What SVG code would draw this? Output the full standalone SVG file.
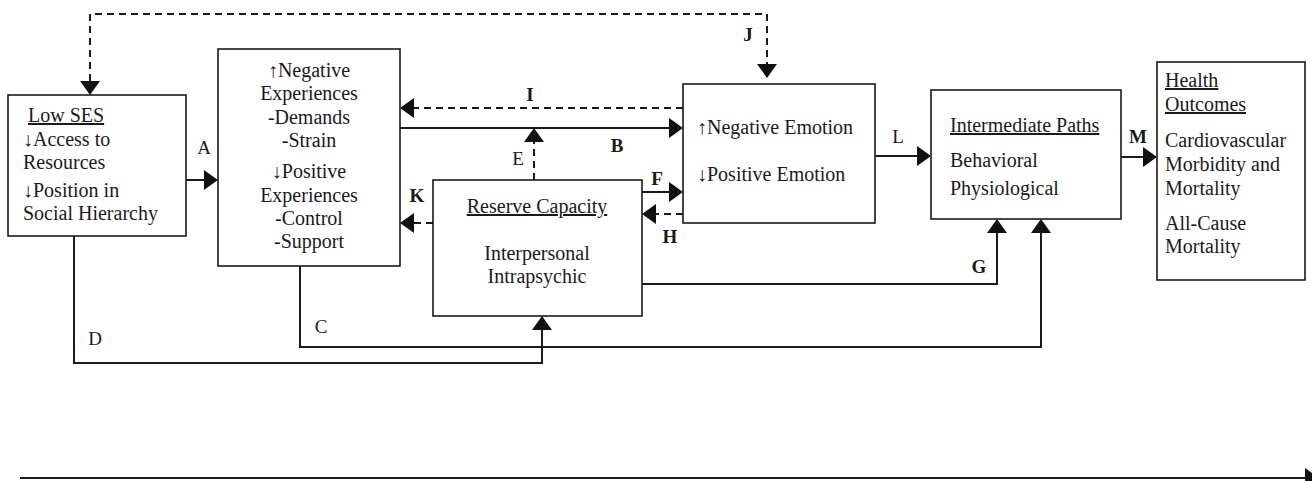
<svg xmlns="http://www.w3.org/2000/svg" width="1312" height="481" viewBox="0 0 1312 481">
  <style>
    .box { fill: #fff; stroke: #1a1a1a; stroke-width: 1.6; }
    .t { font-family: "Liberation Serif", "Times New Roman", serif; font-size: 20px; fill: #1a1a1a; }
    .c { text-anchor: middle; }
    .u { text-decoration: underline; }
    .lbl { font-family: "Liberation Serif", "Times New Roman", serif; font-size: 19px; fill: #1a1a1a; text-anchor: middle; }
    .b { font-weight: bold; }
    .ln { fill: none; stroke: #1a1a1a; stroke-width: 2; marker-end: url(#ah); }
    .ds { stroke-dasharray: 7 5; }
  </style>
  <defs>
    <marker id="ah" markerUnits="userSpaceOnUse" markerWidth="16" markerHeight="22" refX="12" refY="10" orient="auto">
      <path d="M0,0 L14,10 L0,20 Z" fill="#111"/>
    </marker>
    <marker id="ahs" markerUnits="userSpaceOnUse" markerWidth="16" markerHeight="22" refX="12" refY="10" orient="auto-start-reverse">
      <path d="M0,0 L14,10 L0,20 Z" fill="#111"/>
    </marker>
  </defs>
  <rect width="1312" height="481" fill="#fff"/>

  <g id="connectors">
    <path class="ln" d="M186,180 H216"/>
    <path class="ln" d="M400,128 H681"/>
    <path class="ln ds" d="M683,108 H402"/>
    <path class="ln ds" d="M90,93 V14 H767 V76" style="marker-start:url(#ahs)"/>
    <path class="ln ds" d="M534,180 V130"/>
    <path class="ln" d="M642,192 H681"/>
    <path class="ln ds" d="M683,214 H644"/>
    <path class="ln ds" d="M433,223 H402"/>
    <path class="ln" d="M875,156 H929"/>
    <path class="ln" d="M1121,157 H1155"/>
    <path class="ln" d="M642,284 H997 V221"/>
    <path class="ln" d="M300,266 V347 H1041 V221"/>
    <path class="ln" d="M74,236 V363 H542 V318"/>
    <path class="ln" d="M20,478 H1317"/>
    <text class="lbl" x="204" y="154">A</text>
    <text class="lbl b" x="617" y="152">B</text>
    <text class="lbl b" x="530" y="101">I</text>
    <text class="lbl b" x="748" y="41">J</text>
    <text class="lbl" x="518" y="165">E</text>
    <text class="lbl b" x="657" y="185">F</text>
    <text class="lbl b" x="670" y="243">H</text>
    <text class="lbl b" x="417" y="202">K</text>
    <text class="lbl" x="898" y="143">L</text>
    <text class="lbl b" x="1138" y="143">M</text>
    <text class="lbl b" x="979" y="273">G</text>
    <text class="lbl" x="321" y="333">C</text>
    <text class="lbl" x="95" y="345">D</text>
  </g>

  <g id="low-ses">
    <rect class="box" x="8" y="95" width="178" height="141"/>
    <text class="t u" x="28" y="122">Low SES</text>
    <text class="t" x="23" y="146">↓Access to</text>
    <text class="t" x="23" y="169">Resources</text>
    <text class="t" x="23" y="197">↓Position in</text>
    <text class="t" x="23" y="220">Social Hierarchy</text>
  </g>

  <g id="experiences">
    <rect class="box" x="218" y="49" width="182" height="217"/>
    <text class="t c" x="309" y="77">↑Negative</text>
    <text class="t c" x="309" y="100">Experiences</text>
    <text class="t c" x="309" y="124">-Demands</text>
    <text class="t c" x="309" y="147">-Strain</text>
    <text class="t c" x="309" y="178">↓Positive</text>
    <text class="t c" x="309" y="202">Experiences</text>
    <text class="t c" x="309" y="225">-Control</text>
    <text class="t c" x="309" y="248">-Support</text>
  </g>

  <g id="reserve-capacity">
    <rect class="box" x="433" y="180" width="209" height="136"/>
    <text class="t c u" x="537" y="213">Reserve Capacity</text>
    <text class="t c" x="537" y="260">Interpersonal</text>
    <text class="t c" x="537" y="283">Intrapsychic</text>
  </g>

  <g id="emotion">
    <rect class="box" x="683" y="84" width="192" height="139"/>
    <text class="t" x="697" y="134">↑Negative Emotion</text>
    <text class="t" x="697" y="181">↓Positive Emotion</text>
  </g>

  <g id="intermediate-paths">
    <rect class="box" x="931" y="90" width="190" height="129"/>
    <text class="t u" x="950" y="132">Intermediate Paths</text>
    <text class="t" x="950" y="167">Behavioral</text>
    <text class="t" x="950" y="195">Physiological</text>
  </g>

  <g id="health-outcomes">
    <rect class="box" x="1157" y="62" width="148" height="218"/>
    <text class="t u" x="1165" y="87">Health</text>
    <text class="t u" x="1165" y="111">Outcomes</text>
    <text class="t" x="1165" y="147">Cardiovascular</text>
    <text class="t" x="1165" y="171">Morbidity and</text>
    <text class="t" x="1165" y="195">Mortality</text>
    <text class="t" x="1165" y="230">All-Cause</text>
    <text class="t" x="1165" y="253">Mortality</text>
  </g>
</svg>
